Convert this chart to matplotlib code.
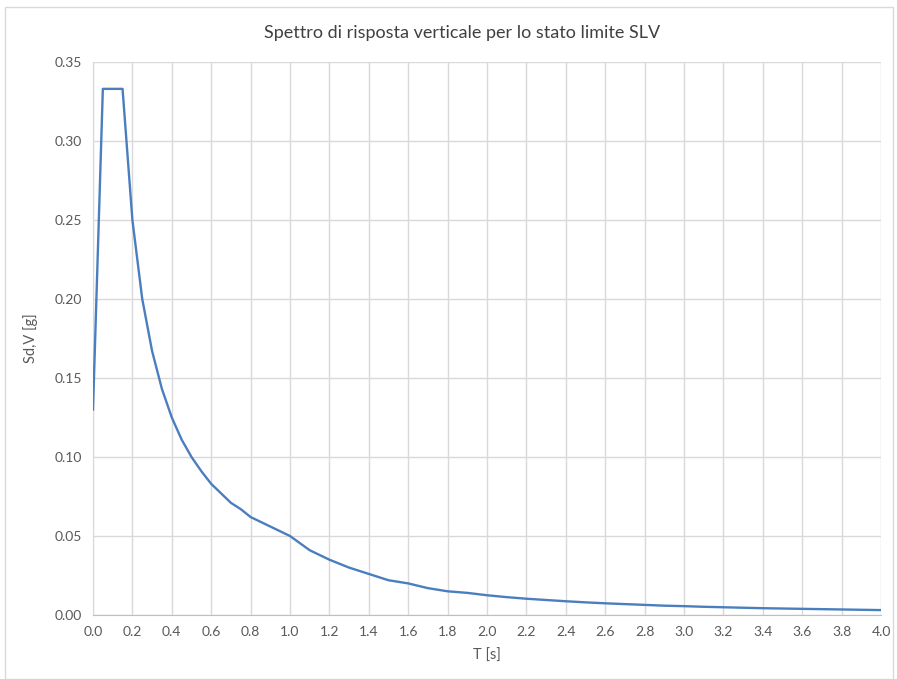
import matplotlib
matplotlib.use("Agg")
import matplotlib.pyplot as plt
from matplotlib.patches import Rectangle
from matplotlib.ticker import MultipleLocator, FormatStrFormatter

T = [0.0, 0.05, 0.15, 0.20, 0.25, 0.30, 0.35, 0.40, 0.45, 0.50, 0.55, 0.60,
     0.65, 0.70, 0.75, 0.80, 0.85, 0.90, 0.95, 1.00, 1.1, 1.2, 1.3, 1.4,
     1.5, 1.6, 1.7, 1.8, 1.9, 2.0, 2.1, 2.2, 2.3, 2.4, 2.5, 2.6, 2.7, 2.8,
     2.9, 3.0, 3.1, 3.2, 3.3, 3.4, 3.5, 3.6, 3.7, 3.8, 3.9, 4.0]
Sd = [0.130, 0.333, 0.333, 0.250, 0.200, 0.167, 0.143, 0.125, 0.111, 0.100,
      0.091, 0.083, 0.077, 0.071, 0.067, 0.062, 0.059, 0.056, 0.053, 0.050,
      0.041, 0.035, 0.030, 0.026, 0.022, 0.020, 0.017, 0.015, 0.014, 0.0125,
      0.0113, 0.0103, 0.0095, 0.0087, 0.0080, 0.0074, 0.0069, 0.0064, 0.0059,
      0.0056, 0.0052, 0.0049, 0.0046, 0.0043, 0.0041, 0.0039, 0.0037, 0.0035,
      0.0033, 0.0031]

title = "Spettro di risposta verticale per lo stato limite SLV"
xlabel = "T [s]"
ylabel = "Sd,V [g]"

plt.rcParams['font.family'] = ['Lato', 'DejaVu Sans']
W, H = 897, 679
fig = plt.figure(figsize=(W/100, H/100), dpi=100)
fig.patch.set_facecolor('white')
fig.add_artist(Rectangle((5/W, 0/H), 888/W, 672/H, transform=fig.transFigure,
                         fill=False, edgecolor='#d9d9d9', lw=1.0))

ax = fig.add_axes([93/W, 1-615/H, (881-93)/W, (615-62)/H])
ax.plot(T, Sd, color='#4a7ebf', lw=1.7, solid_joinstyle='round', zorder=3)
ax.set_xlim(0, 4.0)
ax.set_ylim(0, 0.35)
ax.xaxis.set_major_locator(MultipleLocator(0.2))
ax.yaxis.set_major_locator(MultipleLocator(0.05))
ax.xaxis.set_major_formatter(FormatStrFormatter('%.1f'))
ax.yaxis.set_major_formatter(FormatStrFormatter('%.2f'))
ax.grid(True, color='#d9d9d9', lw=1.0, zorder=0)
ax.set_axisbelow(True)
for s in ['top', 'right']:
    ax.spines[s].set_visible(False)
ax.spines['left'].set_color('#d9d9d9')
ax.spines['bottom'].set_color('#bfbfbf')
ax.tick_params(length=0, colors='#595959', labelsize=10, pad=8)
ax.set_xlabel(xlabel, color='#595959', fontsize=10.5, labelpad=8)
ax.set_ylabel(ylabel, color='#595959', fontsize=10.5, labelpad=12)
fig.text(462/W, 1-33/H, title, ha='center', va='center', fontsize=13,
         color='#404040', family=['Lato', 'DejaVu Sans'], fontweight='normal')
fig.savefig('out.png', dpi=100)
